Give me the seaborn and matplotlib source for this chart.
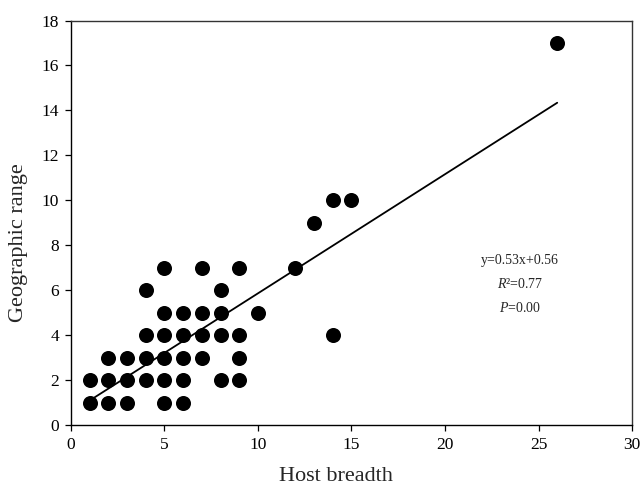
import matplotlib
matplotlib.use("Agg")
import matplotlib.pyplot as plt
import seaborn as sns
import numpy as np
import pandas as pd

# Data
host_breadth = [1, 2, 3, 5, 6,
                1, 2, 3, 4, 5, 6, 8, 9,
                2, 3, 4, 5, 6, 7, 9,
                4, 5, 6, 7, 8, 9, 14,
                5, 6, 7, 8, 10,
                4, 8,
                5, 7, 9, 12,
                13,
                14, 15,
                26]
geo_range = [1, 1, 1, 1, 1,
             2, 2, 2, 2, 2, 2, 2, 2,
             3, 3, 3, 3, 3, 3, 3,
             4, 4, 4, 4, 4, 4, 4,
             5, 5, 5, 5, 5,
             6, 6,
             7, 7, 7, 7,
             9,
             10, 10,
             17]
slope = 0.53
intercept = 0.56
fit_x = [1, 26]
x_ticks = [0, 5, 10, 15, 20, 25, 30]
y_ticks = [0, 2, 4, 6, 8, 10, 12, 14, 16, 18]

sns.set_style("ticks")
plt.rcParams['font.family'] = ['Liberation Serif', 'DejaVu Serif']
plt.rcParams['mathtext.fontset'] = 'custom'
plt.rcParams['mathtext.rm'] = 'Liberation Serif'
plt.rcParams['mathtext.it'] = 'Liberation Serif:italic'

fig = plt.figure(figsize=(6.44, 4.86), dpi=100)
ax = fig.add_axes([0.1102, 0.1255, 0.8712, 0.8323])

df = pd.DataFrame({"Host breadth": host_breadth, "Geographic range": geo_range})
sns.scatterplot(data=df, x="Host breadth", y="Geographic range", ax=ax,
                color="black", s=117, linewidth=0, zorder=3)

fit_df = pd.DataFrame({"x": fit_x, "y": [slope * v + intercept for v in fit_x]})
sns.lineplot(data=fit_df, x="x", y="y", ax=ax, color="black", linewidth=1.3, zorder=2)

ax.set_xlim(0, 30)
ax.set_ylim(0, 18)
ax.set_xticks(x_ticks)
ax.set_yticks(y_ticks)
ax.tick_params(axis="both", direction="out", length=4.5, width=0.9,
               labelsize=12.5, colors="black", pad=4)
for sp in ax.spines.values():
    sp.set_visible(True)
    sp.set_linewidth(1.0)
    sp.set_color("#333333")
ax.spines["left"].set_color("black")
ax.spines["bottom"].set_color("black")

ax.set_xlabel("Host breadth", fontsize=16)
ax.set_ylabel("Geographic range", fontsize=16)
ax.xaxis.set_label_coords(0.472, -0.104)
ax.yaxis.set_label_coords(-0.077, 0.45)

ax.text(24.0, 7.3, "y=0.53x+0.56", fontsize=10, ha="center", va="center")
ax.text(24.0, 6.27, r"$R$²=0.77", fontsize=10, ha="center", va="center")
ax.text(24.0, 5.2, r"$P$=0.00", fontsize=10, ha="center", va="center")

fig.savefig("out.png", dpi=100)
